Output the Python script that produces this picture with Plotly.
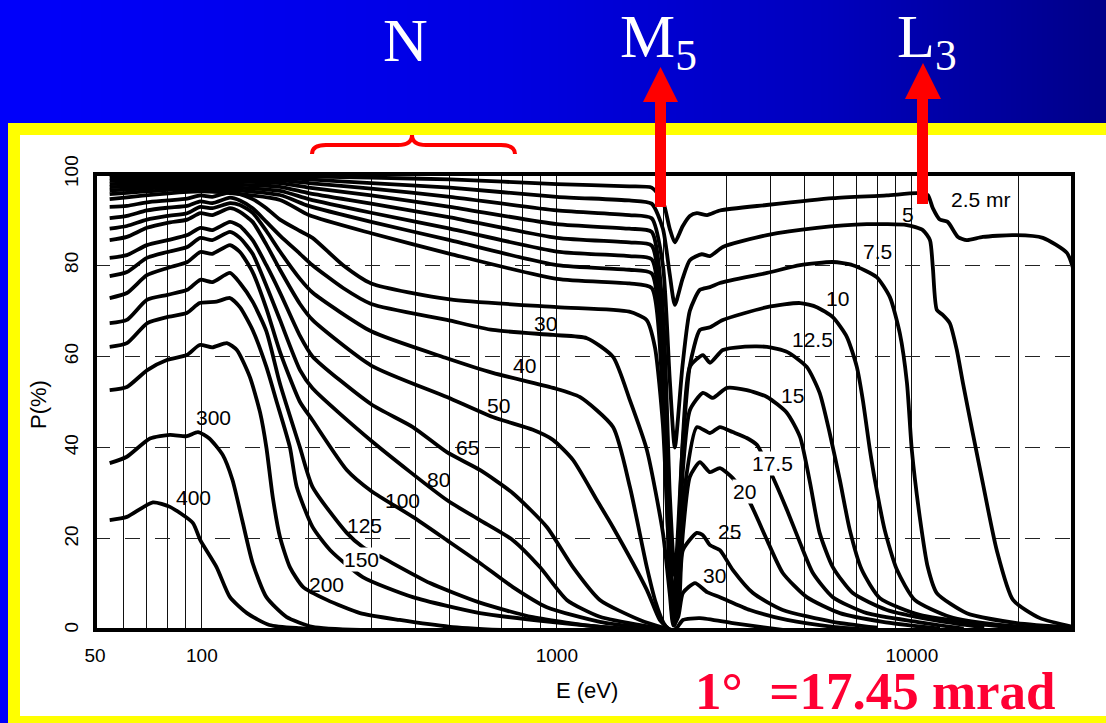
import math
import plotly.graph_objects as go

W, H = 1106, 723

# ---------------- data (E in eV, P in %) ----------------
E_2p5 = [55, 100, 166, 200, 300, 500, 1000, 1600, 1850, 1990, 2080, 2150, 2260, 2370, 2480, 2650, 2880, 3900, 6000, 8500, 10330, 11090, 11460, 11990, 12620, 13490, 14290, 15850, 19280, 23400, 27350, 28400]
P_2p5 = [99.8, 99.8, 99.7, 99.5, 99.2, 98.8, 97.8, 97.3, 97.0, 94.0, 88.0, 85.0, 88.5, 90.8, 91.4, 91.0, 92.0, 93.2, 94.7, 95.3, 95.8, 95.4, 92.5, 90.0, 89.5, 86.2, 85.5, 86.2, 86.6, 86.0, 82.7, 79.6]

E_5 = [55, 100, 166, 200, 300, 500, 1000, 1600, 1850, 1990, 2080, 2150, 2260, 2370, 2560, 2700, 2935, 3910, 5400, 7470, 9690, 10740, 11250, 11460, 11760, 12220, 12790, 13390, 13930, 14850, 15850, 17350, 19280, 22960, 28400]
P_5 = [99.2, 99.3, 99.2, 98.8, 98.0, 97.0, 95.0, 94.2, 93.5, 88.0, 78.0, 71.3, 77.0, 81.1, 82.4, 82.0, 84.0, 86.6, 88.2, 89.0, 88.8, 87.7, 85.5, 79.6, 70.2, 69.1, 67.3, 61.4, 54.2, 43.2, 32.2, 17.5, 6.6, 2.6, 0.7]

E_7p5 = [55, 100, 166, 200, 300, 500, 1000, 1600, 1850, 1990, 2080, 2150, 2260, 2370, 2530, 2700, 2880, 3910, 4845, 5990, 6820, 7960, 8675, 9250, 9690, 10000, 10530, 11090, 11760, 14290, 19770, 28400]
P_7p5 = [98.5, 98.8, 98.6, 98.0, 96.8, 95.0, 92.0, 91.0, 90.3, 80.0, 55.0, 40.0, 58.0, 70.0, 74.6, 75.2, 76.1, 78.3, 80.0, 80.7, 80.0, 77.4, 73.0, 65.1, 54.2, 39.5, 24.8, 13.8, 8.1, 3.7, 1.5, 0.5]

E_10 = [55, 100, 166, 200, 300, 500, 1000, 1600, 1850, 1990, 2080, 2150, 2260, 2370, 2530, 2700, 2935, 3910, 4845, 5400, 5990, 6560, 7000, 7280, 7620, 7870, 8390, 9080, 10190, 12790, 17690, 25000]
P_10 = [97.8, 98.3, 98.0, 97.0, 95.3, 92.8, 89.0, 88.0, 87.3, 70.0, 30.0, 12.0, 40.0, 58.0, 65.8, 66.4, 68.0, 70.8, 71.7, 70.8, 68.6, 64.3, 57.7, 50.4, 39.5, 32.9, 21.9, 13.2, 6.6, 2.9, 1.1, 0.3]

E_12p5 = [55, 100, 166, 200, 300, 500, 1000, 1600, 1850, 1990, 2080, 2130, 2200, 2265, 2370, 2580, 2700, 2935, 3340, 3910, 4450, 5060, 5500, 5870, 6270, 6690, 7230, 8130, 10530, 15540, 20000]
P_12p5 = [97.1, 97.8, 97.2, 95.8, 93.5, 90.5, 86.0, 85.0, 84.3, 65.0, 25.0, 5.0, 20.0, 42.0, 57.7, 60.3, 58.6, 61.4, 62.1, 62.1, 61.0, 57.7, 52.0, 43.2, 32.9, 21.9, 13.2, 7.0, 3.3, 1.3, 0.4]

E_15 = [55, 100, 166, 200, 300, 500, 1000, 1600, 1850, 1990, 2080, 2130, 2200, 2265, 2370, 2580, 2750, 3015, 3430, 3910, 4450, 4845, 5170, 5500, 5990, 6820, 8510, 11460, 16000]
P_15 = [96.4, 97.3, 96.3, 94.5, 91.5, 88.0, 83.0, 82.0, 81.3, 60.0, 20.0, 3.0, 15.0, 35.0, 48.2, 52.0, 50.9, 53.1, 52.6, 51.1, 47.6, 42.3, 32.2, 21.3, 13.8, 8.1, 4.4, 2.2, 0.5]

E_17p5 = [55, 100, 166, 200, 300, 500, 1000, 1600, 1850, 1990, 2080, 2130, 2200, 2300, 2480, 2700, 2880, 3130, 3430, 3660, 4055, 4450, 4845, 5265, 5990, 7470, 10330, 14000]
P_17p5 = [95.6, 96.8, 95.4, 93.0, 89.5, 85.5, 80.0, 79.0, 78.2, 55.0, 15.0, 2.0, 12.0, 32.0, 44.5, 43.2, 44.5, 43.4, 42.1, 40.6, 33.6, 26.3, 19.1, 12.5, 7.2, 3.7, 1.8, 0.3]

E_20 = [55, 100, 166, 200, 300, 500, 1000, 1600, 1850, 1990, 2080, 2130, 2200, 2270, 2370, 2530, 2700, 2880, 3130, 3500, 3910, 4330, 5060, 6270, 8280, 12000]
P_20 = [94.5, 96.2, 94.3, 91.0, 87.0, 82.5, 77.0, 76.0, 75.0, 50.0, 12.0, 1.5, 8.0, 22.0, 33.6, 36.8, 34.6, 35.5, 33.3, 27.9, 19.7, 12.5, 7.2, 3.7, 1.8, 0.3]

E_25 = [55, 61.5, 70, 80, 91, 99, 107, 120, 128, 139, 152, 166, 189, 205, 250, 300, 500, 1000, 1600, 1790, 1890, 1990, 2060, 2110, 2150, 2220, 2265, 2480, 2580, 2700, 2880, 3130, 3570, 4330, 5990, 8000]
P_25 = [92.8, 93.0, 93.8, 94.2, 94.6, 95.3, 95.0, 96.0, 95.6, 94.5, 92.5, 90.0, 87.5, 86.0, 80.0, 76.0, 72.5, 70.8, 69.8, 68.0, 62.0, 45.0, 20.0, 4.0, 1.0, 8.0, 17.5, 21.3, 20.8, 18.6, 17.5, 13.2, 8.1, 4.4, 1.8, 0.5]

E_30 = [55, 61.5, 70, 80, 91, 99, 107, 120, 128, 139, 152, 166, 189, 205, 250, 300, 490, 660, 975, 1215, 1440, 1606, 1793, 1990, 2080, 2130, 2200, 2265, 2450, 2650, 2880, 3500, 4450, 6000, 8000]
P_30 = [90.3, 90.8, 92.0, 92.6, 93.0, 94.0, 93.6, 94.8, 94.2, 92.5, 89.5, 86.5, 82.5, 80.0, 75.0, 71.5, 68.0, 65.8, 64.7, 64.0, 59.9, 50.4, 39.5, 21.3, 8.0, 1.0, 3.0, 8.1, 10.3, 8.3, 7.2, 4.4, 2.2, 0.7, 0.0]

E_40 = [55, 61.5, 70, 80, 91, 99, 107, 120, 128, 139, 152, 166, 189, 205, 300, 490, 660, 975, 1160, 1440, 1606, 1793, 1900, 2000, 2060, 2110, 2180, 2265, 2530, 3130, 4330]
P_40 = [88.0, 88.6, 90.0, 90.8, 91.4, 92.8, 92.5, 93.6, 93.2, 91.5, 87.5, 83.0, 77.0, 74.0, 65.5, 59.6, 56.4, 53.1, 51.1, 44.5, 31.4, 13.8, 6.0, 1.5, 0.3, 0.0, 0.5, 2.2, 2.6, 1.5, 0.0]

E_50 = [55, 61.5, 70, 80, 91, 99, 107, 120, 128, 139, 152, 166, 189, 205, 300, 490, 660, 856, 975, 1110, 1296, 1438, 1793, 1950, 2080]
P_50 = [85.5, 86.2, 88.2, 89.3, 90.0, 91.4, 91.0, 92.5, 91.7, 89.5, 84.5, 79.0, 71.5, 68.0, 58.0, 51.1, 46.7, 43.9, 41.7, 37.3, 28.5, 22.6, 8.8, 2.2, 0.0]

E_65 = [55, 61.5, 70, 80, 91, 99, 107, 120, 128, 139, 152, 166, 189, 205, 300, 393, 490, 607, 752, 937, 1110, 1322, 1713, 2015, 2110]
P_65 = [81.6, 82.2, 84.4, 85.5, 86.6, 88.2, 87.7, 89.5, 88.6, 85.5, 80.0, 74.0, 64.5, 60.0, 49.5, 44.5, 39.0, 35.1, 30.0, 22.6, 13.8, 6.6, 2.2, 0.4, 0.0]

E_80 = [55, 61.5, 70, 80, 91, 99, 107, 120, 128, 139, 152, 166, 189, 205, 300, 490, 607, 752, 896, 1067, 1322, 1828, 2080]
P_80 = [77.6, 78.5, 81.6, 82.9, 84.0, 86.0, 85.5, 87.3, 86.0, 82.5, 75.5, 68.0, 57.0, 53.0, 41.5, 28.5, 24.1, 19.7, 13.8, 6.6, 2.9, 0.7, 0.0]

E_100 = [55, 61.5, 70, 80, 91, 99, 107, 120, 128, 139, 152, 166, 189, 205, 256, 300, 393, 490, 607, 752, 937, 1322, 1828]
P_100 = [72.8, 73.9, 77.8, 79.4, 80.7, 82.9, 82.5, 84.4, 82.9, 78.5, 70.5, 61.0, 50.0, 46.0, 35.1, 30.5, 24.8, 19.7, 14.7, 9.4, 5.0, 1.8, 0.3]

E_125 = [55, 61.5, 70, 80, 91, 99, 107, 120, 128, 139, 152, 166, 189, 205, 256, 284, 324, 439, 607, 856, 1322, 1828]
P_125 = [67.3, 68.0, 72.4, 73.5, 74.6, 76.8, 76.3, 78.3, 76.1, 72.0, 65.5, 54.0, 40.0, 31.4, 21.3, 18.2, 15.8, 10.3, 6.0, 2.8, 0.7, 0.0]

E_150 = [55, 61.5, 70.2, 79.7, 90.7, 98.6, 110, 120, 128, 139, 152, 162, 177, 185, 205, 230, 284, 393, 607, 960, 1500, 1900]
P_150 = [62.1, 62.9, 67.3, 68.6, 69.5, 71.7, 72.0, 72.8, 70.8, 65.8, 57.7, 50.4, 40.1, 31.4, 22.6, 17.5, 11.6, 7.2, 3.7, 1.8, 0.4, 0.0]

E_200 = [55, 61.5, 70.2, 79.7, 90.7, 98.6, 107, 117.6, 125.5, 136.5, 146, 152, 158.5, 166, 177, 193, 225, 279, 361, 500, 700]
P_200 = [52.6, 53.3, 57.0, 59.2, 60.3, 62.5, 62.0, 62.9, 61.4, 55.5, 47.6, 40.0, 29.0, 20.4, 13.8, 9.4, 6.6, 3.7, 2.2, 0.7, 0.0]

E_300 = [55, 61.5, 71.4, 81.3, 90.7, 97.5, 105, 114.5, 122, 130, 139, 152, 173, 205, 280]
P_300 = [36.6, 38.0, 42.0, 42.8, 42.5, 43.4, 42.0, 38.4, 32.9, 24.0, 14.7, 7.2, 2.9, 0.7, 0.0]

E_400 = [55, 61.5, 72.8, 81.3, 94.3, 99, 110, 120, 134, 155, 189, 250]
P_400 = [24.1, 24.8, 28.0, 27.0, 23.5, 19.7, 13.8, 7.2, 3.7, 1.1, 0.4, 0.0]

label_text = ["2.5 mr", "5", "7.5", "10", "12.5", "15", "17.5", "20", "25", "30",
              "30", "40", "50", "65", "80", "100", "125", "150", "200", "300", "400"]
label_E = [15630, 9750, 8020, 6186, 5260, 4620, 4060, 3385, 3071, 2787,
           931, 812, 687, 561, 465, 368, 288, 282, 225, 108, 95]
label_P = [94.3, 91.2, 83.1, 72.6, 63.6, 51.5, 36.6, 30.3, 21.5, 12.0,
           67.3, 58.1, 49.3, 40.1, 33.1, 28.3, 23.0, 15.4, 9.9, 46.7, 29.0]
label_bg = {"17.5", "20", "150"}

x_ticks = [50, 100, 1000, 10000]
x_minor = [60, 70, 80, 90, 200, 300, 400, 500, 600, 700, 800, 900,
           2000, 3000, 4000, 5000, 6000, 7000, 8000, 9000, 20000]
y_ticks = [0, 20, 40, 60, 80, 100]

curves = [E_2p5, P_2p5, E_5, P_5, E_7p5, P_7p5, E_10, P_10, E_12p5, P_12p5,
          E_15, P_15, E_17p5, P_17p5, E_20, P_20, E_25, P_25, E_30, P_30,
          E_40, P_40, E_50, P_50, E_65, P_65, E_80, P_80, E_100, P_100,
          E_125, P_125, E_150, P_150, E_200, P_200, E_300, P_300, E_400, P_400]

# ---------------- layout geometry (pixels) ----------------
def px(x):
    return x / W

def py(y):
    return 1 - y / H

PLOT_L, PLOT_R, PLOT_T, PLOT_B = 95, 1073, 174, 630

fig = go.Figure()

# header gradient
n = 60
fig.add_trace(go.Heatmap(
    z=[list(range(n))], x=list(range(n)), y=[0],
    colorscale=[[0, "rgb(0,0,250)"], [0.45, "rgb(0,0,226)"], [0.75, "rgb(0,0,190)"], [1, "rgb(0,0,138)"]],
    zsmooth="best", showscale=False, hoverinfo="skip", xaxis="x2", yaxis="y2"))

for i in range(0, len(curves), 2):
    fig.add_trace(go.Scatter(
        x=curves[i], y=curves[i + 1], mode="lines",
        line=dict(color="black", width=3.8, shape="spline", smoothing=0.6),
        hoverinfo="skip", showlegend=False))

annotations = []
for t, e, p in zip(label_text, label_E, label_P):
    annotations.append(dict(
        x=math.log10(e), y=p, xref="x", yref="y", text=t, showarrow=False,
        xanchor="center", yanchor="middle",
        font=dict(family="Liberation Sans", size=21, color="black"),
        bgcolor="white" if t in label_bg else "rgba(0,0,0,0)", borderpad=0))

# axis titles
annotations.append(dict(x=px(587), y=py(690), xref="paper", yref="paper", text="E (eV)",
                        xanchor="center", yanchor="middle",
                        showarrow=False, font=dict(family="Liberation Sans", size=22, color="black")))
annotations.append(dict(x=px(38), y=py(405), xref="paper", yref="paper", text="P(%)", textangle=-90,
                        xanchor="center", yanchor="middle",
                        showarrow=False, font=dict(family="Liberation Sans", size=22, color="black")))

# header texts
serif = "Liberation Serif"
annotations.append(dict(x=px(405), y=py(4), xref="paper", yref="paper", text="N",
                        xanchor="center", yanchor="top",
                        showarrow=False, font=dict(family=serif, size=62, color="white")))
annotations.append(dict(x=px(618), y=py(0), xref="paper", yref="paper", text="M<sub>5</sub>",
                        xanchor="left", yanchor="top",
                        showarrow=False, font=dict(family=serif, size=62, color="white")))
annotations.append(dict(x=px(895), y=py(0), xref="paper", yref="paper", text="L<sub>3</sub>",
                        xanchor="left", yanchor="top",
                        showarrow=False, font=dict(family=serif, size=62, color="white")))

# bottom red note
annotations.append(dict(x=px(693), y=py(722), xref="paper", yref="paper",
                        text="1°\u00a0\u00a0=17.45 mrad", xanchor="left", yanchor="bottom",
                        showarrow=False, font=dict(family=serif, size=53, color="rgb(255,0,51)", weight="bold")))

shapes = []
yellow = "rgb(255,255,0)"
blue_l = "rgb(0,0,250)"
shapes.append(dict(type="rect", xref="paper", yref="paper", x0=0, x1=px(8), y0=0, y1=py(123),
                   fillcolor=blue_l, line=dict(width=0), layer="below"))
shapes.append(dict(type="rect", xref="paper", yref="paper", x0=px(8), x1=1, y0=py(135), y1=py(123),
                   fillcolor=yellow, line=dict(width=0), layer="below"))
shapes.append(dict(type="rect", xref="paper", yref="paper", x0=px(8), x1=px(20), y0=0, y1=py(123),
                   fillcolor=yellow, line=dict(width=0), layer="below"))
shapes.append(dict(type="rect", xref="paper", yref="paper", x0=px(8), x1=1, y0=0, y1=py(716),
                   fillcolor=yellow, line=dict(width=0), layer="below"))

# plot frame
shapes.append(dict(type="rect", xref="x domain", yref="y domain", x0=0, x1=1, y0=0, y1=1,
                   line=dict(color="black", width=4), layer="above"))

red = "rgb(255,0,0)"
# arrows
for (sx0, sx1, top_y, bot_y, hx0, hx1, tip_y) in [(655, 666, 101, 207, 643, 678, 67), (917, 928, 98, 204, 905, 941, 63)]:
    shapes.append(dict(type="rect", xref="paper", yref="paper", x0=px(sx0), x1=px(sx1),
                       y0=py(bot_y), y1=py(top_y), fillcolor=red, line=dict(width=0), layer="above"))
    path = "M {},{} L {},{} L {},{} Z".format(px(hx0), py(top_y + 1), px(hx1), py(top_y + 1),
                                             px((hx0 + hx1) / 2), py(tip_y))
    shapes.append(dict(type="path", xref="paper", yref="paper", path=path, fillcolor=red,
                       line=dict(width=0), layer="above"))

# brace
bp = [(312, 154), (312, 145), (326, 145), (398, 145), (412, 145), (412, 135), (412, 145), (426, 145),
      (501, 145), (515, 145), (515, 154)]
P_ = [(px(a), py(b)) for a, b in bp]
brace = ("M {0[0]},{0[1]} Q {1[0]},{1[1]} {2[0]},{2[1]} L {3[0]},{3[1]} Q {4[0]},{4[1]} {5[0]},{5[1]} "
         "Q {6[0]},{6[1]} {7[0]},{7[1]} L {8[0]},{8[1]} Q {9[0]},{9[1]} {10[0]},{10[1]}").format(*P_)
shapes.append(dict(type="path", xref="paper", yref="paper", path=brace,
                   line=dict(color=red, width=4), layer="above"))

tickfont = dict(family="Liberation Sans", size=19, color="black")
fig.update_layout(
    width=W, height=H, margin=dict(l=0, r=0, t=0, b=0, pad=0, autoexpand=False),
    paper_bgcolor="white", plot_bgcolor="white", showlegend=False,
    xaxis=dict(type="log", range=[1.699, 4.4541], domain=[px(PLOT_L), px(PLOT_R)],
               tickvals=x_ticks, ticktext=[str(v) for v in x_ticks], tickfont=tickfont,
               ticks="", ticklabelstandoff=12, showgrid=True, gridcolor="#111", gridwidth=1.4,
               minor=dict(tickvals=x_minor, showgrid=True, gridcolor="#111", gridwidth=1.4, ticks=""),
               zeroline=False, showline=False, fixedrange=True, automargin=False),
    yaxis=dict(range=[0, 100], domain=[py(PLOT_B), py(PLOT_T)], tickvals=y_ticks,
               ticktext=[str(v) for v in y_ticks], tickfont=tickfont, tickangle=-90,
               ticks="", ticklabelstandoff=12, showgrid=True, gridcolor="#222", gridwidth=1.1,
               griddash="longdash", zeroline=False, showline=False, fixedrange=True, automargin=False),
    xaxis2=dict(domain=[0, 1], range=[-0.5, n - 0.5], visible=False, fixedrange=True, automargin=False),
    yaxis2=dict(domain=[py(123), 1], range=[-0.5, 0.5], visible=False, fixedrange=True, automargin=False),
    annotations=annotations, shapes=shapes,
)

fig.write_html("out.html")
